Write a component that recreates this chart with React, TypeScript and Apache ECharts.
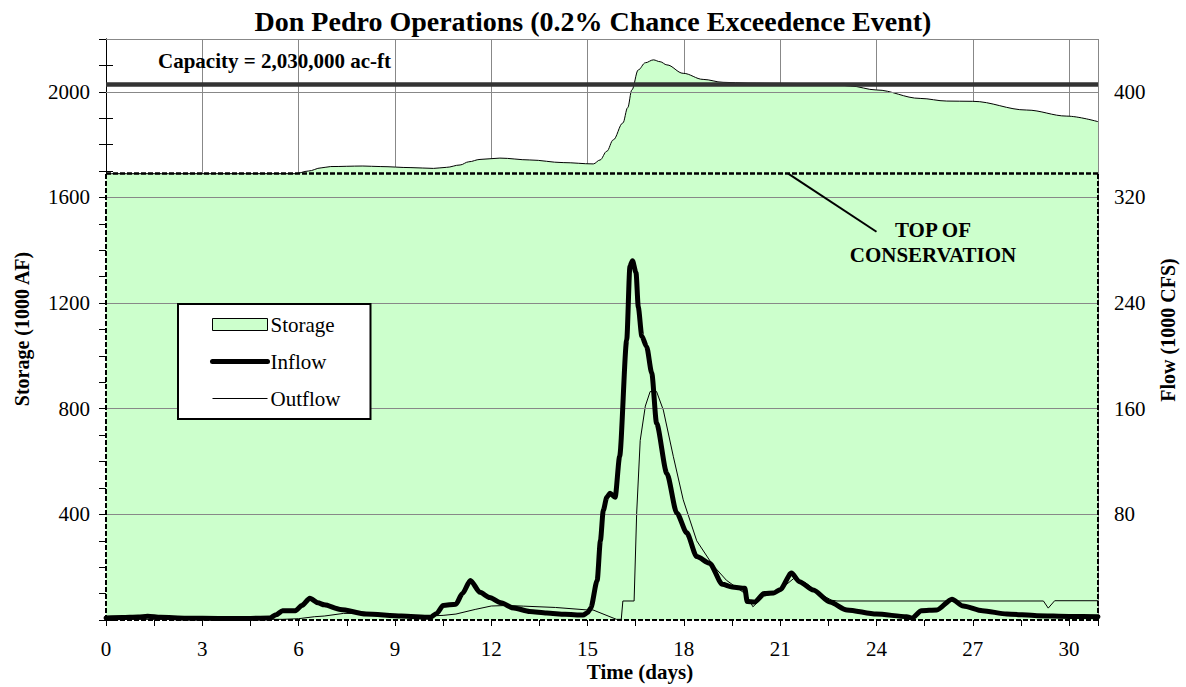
import React, { useEffect, useRef } from 'react';
import * as echarts from 'echarts';

const FONT = '"Liberation Serif", "Times New Roman", Times, serif';

// Time axis (days)
const X_MAX = 30.9;
const xTickStep = 1.5;
const xLabelStep = 3;

// Storage (1000 AF)
const storageDays = [0, 5.9, 6.3, 6.7, 7.0, 8.0, 8.54, 9.5, 10.2, 10.6, 11.03, 11.3, 11.65, 12.27, 13.2, 14.24, 15.18, 15.39, 15.6, 15.8, 16.1, 16.25, 16.38, 16.58, 16.8, 17.05, 17.26, 17.47, 17.98, 18.6, 19.22, 20.0, 21.0, 22.0, 22.7, 23.18, 24.0, 25.36, 26.19, 27.0, 28.68, 29.93, 30.9];
const storageValues = [1690, 1690, 1700, 1712, 1717, 1719, 1717, 1713, 1710, 1714, 1723, 1735, 1744, 1749, 1742, 1732, 1727, 1742, 1775, 1818, 1882, 1940, 2007, 2083, 2110, 2121, 2114, 2102, 2070, 2047, 2036, 2033, 2032, 2031, 2029, 2022, 2007, 1975, 1965, 1964, 1931, 1908, 1887];

// Inflow (1000 CFS)
const inflowDays = [0, 0.5, 1.0, 1.3, 1.7, 2.5, 3.5, 4.5, 5.1, 5.3, 5.5, 5.9, 6.1, 6.35, 6.6, 6.8, 7.3, 8.1, 9.2, 10.1, 10.3, 10.5, 10.9, 11.1, 11.35, 11.65, 11.95, 12.3, 12.7, 13.2, 13.73, 14.3, 14.86, 15.0, 15.1, 15.3, 15.4, 15.49, 15.6, 15.7, 15.86, 16.0, 16.22, 16.32, 16.4, 16.51, 16.58, 16.69, 16.84, 17.0, 17.15, 17.47, 17.78, 18.09, 18.4, 18.8, 19.2, 19.5, 19.9, 19.97, 20.2, 20.5, 20.8, 21.0, 21.35, 21.6, 22.03, 22.55, 23.08, 24.0, 24.94, 25.1, 25.4, 25.88, 26.35, 26.7, 27.3, 28.06, 29.0, 30.0, 30.9];
const inflowValues = [1.5, 1.8, 2.2, 2.8, 2.0, 1.3, 1.2, 1.2, 1.5, 4, 7, 7, 11, 16.5, 13, 11.5, 8, 4.5, 3, 2, 5, 11, 12, 20, 30, 21, 17, 13, 9, 6.5, 5.3, 4.3, 3.8, 5.5, 9, 30, 60, 83, 93, 96, 93, 124, 212, 268, 272, 263, 237, 215, 207, 187, 149, 111, 81, 66, 48, 43, 27, 25, 24, 14, 13.6, 20, 20.5, 23, 35.5, 29, 22.7, 13.6, 7.6, 4.5, 2.5, 1.5, 7, 7.6, 15.8, 10.6, 7, 4.5, 3.3, 2.7, 2.5];

// Outflow (1000 CFS)
const outflowDays = [0, 5.5, 6.0, 6.5, 6.8, 7.4, 8.0, 9.0, 10.0, 10.5, 10.9, 11.5, 12.0, 12.5, 13.0, 14.0, 15.0, 15.17, 15.9, 16.05, 16.1, 16.45, 16.53, 16.64, 16.8, 16.95, 17.15, 17.36, 17.67, 17.98, 18.4, 18.9, 19.33, 19.85, 20.0, 20.15, 20.5, 20.8, 21.1, 21.45, 21.8, 22.3, 22.6, 22.77, 29.2, 29.35, 29.55, 30.9];
const outflowValues = [0.5, 0.5, 1, 2.5, 3, 5, 5, 4, 3, 3.5, 4.5, 8, 10.6, 11, 10.5, 9.5, 7.6, 7.6, 0.5, 0.5, 14.4, 14.4, 81, 136, 162, 173, 173, 159, 124, 91, 60, 41.6, 30, 21, 17, 10, 18, 20, 25, 32, 28, 19, 15, 14.4, 14.4, 9, 14.6, 14.6];

// Reference levels (1000 AF)
const CAPACITY = 2030;
const TOP_OF_CONSERVATION = 1690;
const storageGridLines = [400, 800, 1200, 1600, 2000, 2200];
const leaderLine = [[21.25, 1690], [24.0, 1470]];

const pairs = (xs: number[], ys: number[]) => xs.map((x, i) => [x, ys[i]]);

export default function App() {
  const ref = useRef<HTMLDivElement>(null);
  useEffect(() => {
    const chart = echarts.init(ref.current!, null, { renderer: 'svg' });
    const axisText = { fontFamily: FONT, fontSize: 21, color: '#000' };
    const hiddenSymbol = { color: 'rgba(0,0,0,0)', borderColor: 'rgba(0,0,0,0)', borderWidth: 0 };
    const option: any = {
      animation: false,
      backgroundColor: '#fff',
      title: {
        text: 'Don Pedro Operations (0.2% Chance Exceedence Event)',
        left: 'center',
        top: 2,
        textStyle: { fontFamily: FONT, fontSize: 28, fontWeight: 'bold', color: '#000' },
      },
      grid: { left: 106, right: 88, top: 39, bottom: 67 },
      legend: {
        data: [
          { name: 'Storage', icon: 'rect', itemStyle: { color: '#CCFFCC', borderColor: '#000', borderWidth: 1 } },
          { name: 'Inflow', itemStyle: hiddenSymbol, lineStyle: { color: '#000', width: 5, cap: 'round' } },
          { name: 'Outflow', itemStyle: hiddenSymbol, lineStyle: { color: '#000', width: 1 } },
        ],
        orient: 'vertical',
        left: 178,
        top: 304,
        itemWidth: 55,
        itemHeight: 12,
        itemGap: 16,
        padding: [10, 30, 10, 32],
        borderColor: '#000',
        borderWidth: 2,
        backgroundColor: '#fff',
        z: 10,
        textStyle: { fontFamily: FONT, fontSize: 21, color: '#000', padding: [0, 0, 0, -2] },
      },
      xAxis: [
        {
          type: 'value',
          min: 0,
          max: X_MAX,
          interval: xTickStep,
          axisLine: { show: false },
          axisTick: { show: true, length: 6, lineStyle: { color: '#000' } },
          axisLabel: {
            ...axisText,
            margin: 18,
            formatter: (v: number) => (Math.abs(v % xLabelStep) < 1e-9 ? String(v) : ''),
          },
          splitLine: { show: false },
        },
        {
          type: 'value',
          min: 0,
          max: X_MAX,
          interval: xLabelStep,
          axisLine: { show: false },
          axisTick: { show: false },
          axisLabel: { show: false },
          splitLine: { show: true, lineStyle: { color: '#888', width: 1 } },
        },
      ],
      yAxis: [
        {
          type: 'value',
          min: 0,
          max: 2200,
          interval: 100,
          axisLine: { show: true, lineStyle: { color: '#000', width: 1 } },
          axisTick: { show: true, length: 7, lineStyle: { color: '#000' } },
          axisLabel: {
            ...axisText,
            margin: 16,
            formatter: (v: number) => (v > 0 && v % 400 === 0 ? String(v) : ''),
          },
          splitLine: { show: false },
        },
        {
          type: 'value',
          min: 0,
          max: 440,
          interval: 20,
          position: 'right',
          axisLine: { show: true, lineStyle: { color: '#000', width: 1 } },
          axisTick: { show: true, length: 7, lineStyle: { color: '#000' } },
          axisLabel: {
            ...axisText,
            margin: 16,
            formatter: (v: number) => (v > 0 && v % 80 === 0 ? String(v) : ''),
          },
          splitLine: { show: false },
        },
      ],
      series: [
        {
          name: 'Storage',
          type: 'line',
          xAxisIndex: 0,
          yAxisIndex: 0,
          data: pairs(storageDays, storageValues),
          smooth: 0.35,
          smoothMonotone: 'x',
          symbol: 'none',
          lineStyle: { color: '#000', width: 1 },
          itemStyle: { color: '#CCFFCC' },
          areaStyle: { color: '#CCFFCC', opacity: 1 },
          z: 1,
        },
        {
          name: 'grid',
          type: 'line',
          xAxisIndex: 0,
          yAxisIndex: 0,
          data: [[0, 0]],
          symbol: 'none',
          lineStyle: { opacity: 0 },
          z: 2,
          markLine: {
            silent: true,
            symbol: ['none', 'none'],
            label: { show: false },
            lineStyle: { color: '#888', width: 1, type: 'solid' },
            data: storageGridLines.map((v) => ({ yAxis: v })),
          },
        },
        {
          name: 'refs',
          type: 'line',
          xAxisIndex: 0,
          yAxisIndex: 0,
          data: [[0, 0]],
          symbol: 'none',
          lineStyle: { opacity: 0 },
          z: 3,
          markLine: {
            silent: true,
            symbol: ['none', 'none'],
            label: { show: false },
            data: [
              { yAxis: CAPACITY, lineStyle: { color: '#333', width: 4.5, type: 'solid' } },
              { yAxis: TOP_OF_CONSERVATION, lineStyle: { color: '#000', width: 2.5, type: [5, 2] } },
              [
                { coord: [0, 0], lineStyle: { color: '#000', width: 2, type: [5, 2] } },
                { coord: [X_MAX, 0] },
              ],
              [
                { coord: [0, 0], lineStyle: { color: '#000', width: 2, type: [5, 2] } },
                { coord: [0, TOP_OF_CONSERVATION] },
              ],
              [
                { coord: [X_MAX, 0], lineStyle: { color: '#000', width: 2, type: [5, 2] } },
                { coord: [X_MAX, TOP_OF_CONSERVATION] },
              ],
              [
                { coord: leaderLine[0], lineStyle: { color: '#000', width: 2, type: 'solid' } },
                { coord: leaderLine[1] },
              ],
            ],
          },
        },
        {
          name: 'Outflow',
          type: 'line',
          xAxisIndex: 0,
          yAxisIndex: 1,
          data: pairs(outflowDays, outflowValues),
          symbol: 'none',
          lineStyle: { color: '#000', width: 1 },
          itemStyle: { color: '#000' },
          z: 4,
        },
        {
          name: 'Inflow',
          type: 'line',
          xAxisIndex: 0,
          yAxisIndex: 1,
          data: pairs(inflowDays, inflowValues),
          smooth: 0.25,
          smoothMonotone: 'x',
          symbol: 'none',
          lineStyle: { color: '#000', width: 5, cap: 'round', join: 'round' },
          itemStyle: { color: '#000' },
          z: 5,
        },
      ],
      graphic: [
        {
          type: 'text',
          left: 158,
          top: 50,
          z: 20,
          style: { text: 'Capacity = 2,030,000 ac-ft', fontFamily: FONT, fontSize: 21, fontWeight: 'bold', fill: '#000' },
        },
        {
          type: 'text',
          x: 933,
          y: 230,
          z: 20,
          style: { text: 'TOP OF', fontFamily: FONT, fontSize: 21, fontWeight: 'bold', fill: '#000', align: 'center', verticalAlign: 'middle' },
        },
        {
          type: 'text',
          x: 933,
          y: 255,
          z: 20,
          style: { text: 'CONSERVATION', fontFamily: FONT, fontSize: 21, fontWeight: 'bold', fill: '#000', align: 'center', verticalAlign: 'middle' },
        },
        {
          type: 'text',
          x: 640,
          y: 672,
          z: 20,
          style: { text: 'Time (days)', fontFamily: FONT, fontSize: 21, fontWeight: 'bold', fill: '#000', align: 'center', verticalAlign: 'middle' },
        },
        {
          type: 'text',
          x: 22,
          y: 329,
          rotation: Math.PI / 2,
          z: 20,
          style: { text: 'Storage (1000 AF)', fontFamily: FONT, fontSize: 20, fontWeight: 'bold', fill: '#000', align: 'center', verticalAlign: 'middle' },
        },
        {
          type: 'text',
          x: 1168,
          y: 330,
          rotation: Math.PI / 2,
          z: 20,
          style: { text: 'Flow (1000 CFS)', fontFamily: FONT, fontSize: 20, fontWeight: 'bold', fill: '#000', align: 'center', verticalAlign: 'middle' },
        },
      ],
    };
    chart.setOption(option);
    return () => chart.dispose();
  }, []);
  return (
    <div
      ref={ref}
      style={{ position: 'fixed', left: 0, top: 0, width: 1186, height: 687, background: '#fff' }}
    />
  );
}
